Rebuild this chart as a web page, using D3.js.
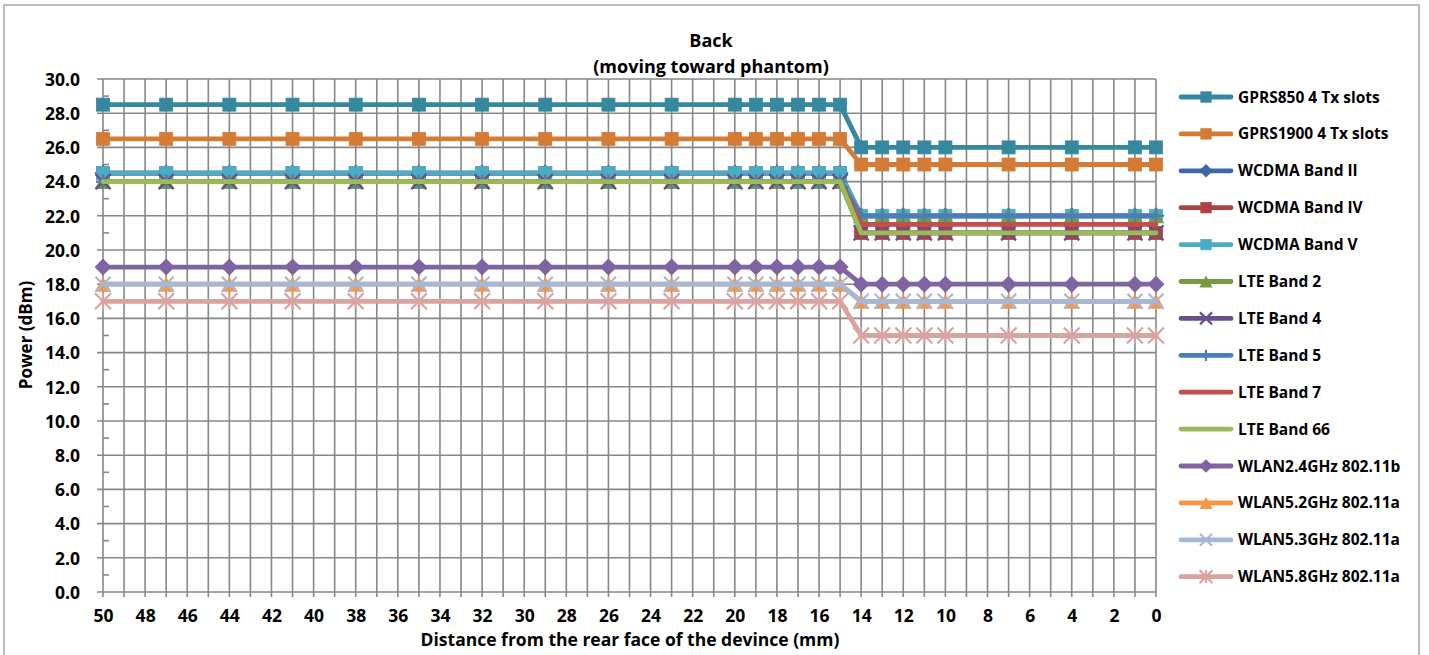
<!DOCTYPE html>
<html>
<head>
<meta charset="utf-8">
<script src="https://cdn.jsdelivr.net/npm/d3@7"></script>
<style>
  html, body { margin: 0; padding: 0; background: #fff; }
  svg { display: block; }
  text { font-family: "Open Sans", "Noto Sans", sans-serif; font-weight: 700; fill: #000; }
</style>
</head>
<body>
<svg id="chart" width="1429" height="655"></svg>
<script>
// ---- data ----
const distances = [50,47,44,41,38,35,32,29,26,23,20,19,18,17,16,15,14,13,12,11,10,7,4,1,0];
const xTicks = [50,48,46,44,42,40,38,36,34,32,30,28,26,24,22,20,18,16,14,12,10,8,6,4,2,0];
const yTicks = [0,2,4,6,8,10,12,14,16,18,20,22,24,26,28,30];
const seriesNames = ["GPRS850 4 Tx slots","GPRS1900 4 Tx slots","WCDMA Band II","WCDMA Band IV","WCDMA Band V","LTE Band 2","LTE Band 4","LTE Band 5","LTE Band 7","LTE Band 66","WLAN2.4GHz 802.11b","WLAN5.2GHz 802.11a","WLAN5.3GHz 802.11a","WLAN5.8GHz 802.11a"];
const gprs850   = [28.5,28.5,28.5,28.5,28.5,28.5,28.5,28.5,28.5,28.5,28.5,28.5,28.5,28.5,28.5,28.5,26,26,26,26,26,26,26,26,26];
const gprs1900  = [26.5,26.5,26.5,26.5,26.5,26.5,26.5,26.5,26.5,26.5,26.5,26.5,26.5,26.5,26.5,26.5,25,25,25,25,25,25,25,25,25];
const wcdma2    = [24.5,24.5,24.5,24.5,24.5,24.5,24.5,24.5,24.5,24.5,24.5,24.5,24.5,24.5,24.5,24.5,22,22,22,22,22,22,22,22,22];
const wcdma4    = [24.5,24.5,24.5,24.5,24.5,24.5,24.5,24.5,24.5,24.5,24.5,24.5,24.5,24.5,24.5,24.5,21,21,21,21,21,21,21,21,21];
const wcdma5    = [24.5,24.5,24.5,24.5,24.5,24.5,24.5,24.5,24.5,24.5,24.5,24.5,24.5,24.5,24.5,24.5,22,22,22,22,22,22,22,22,22];
const lte2      = [24,24,24,24,24,24,24,24,24,24,24,24,24,24,24,24,22,22,22,22,22,22,22,22,22];
const lte4      = [24,24,24,24,24,24,24,24,24,24,24,24,24,24,24,24,21,21,21,21,21,21,21,21,21];
const lte5      = [24,24,24,24,24,24,24,24,24,24,24,24,24,24,24,24,22,22,22,22,22,22,22,22,22];
const lte7      = [24,24,24,24,24,24,24,24,24,24,24,24,24,24,24,24,21.5,21.5,21.5,21.5,21.5,21.5,21.5,21.5,21.5];
const lte66     = [24,24,24,24,24,24,24,24,24,24,24,24,24,24,24,24,21,21,21,21,21,21,21,21,21];
const wlan24    = [19,19,19,19,19,19,19,19,19,19,19,19,19,19,19,19,18,18,18,18,18,18,18,18,18];
const wlan52    = [18,18,18,18,18,18,18,18,18,18,18,18,18,18,18,18,17,17,17,17,17,17,17,17,17];
const wlan53    = [18,18,18,18,18,18,18,18,18,18,18,18,18,18,18,18,17,17,17,17,17,17,17,17,17];
const wlan58    = [17,17,17,17,17,17,17,17,17,17,17,17,17,17,17,17,15,15,15,15,15,15,15,15,15];
const seriesValues = [gprs850,gprs1900,wcdma2,wcdma4,wcdma5,lte2,lte4,lte5,lte7,lte66,wlan24,wlan52,wlan53,wlan58];
const seriesColors = ["#35889F","#D47B36","#3D69A5","#AC4340","#4BACC6","#789A42","#65508A","#4A7EBB","#C0504D","#9BBB59","#8064A2","#F79646","#A7B7D6","#D9A3A1"];
const seriesMarkers = ["square","square","diamond","square","square","triangle","x","plus","none","none","diamond","triangle","x","star"];

// ---- layout ----
const svg = d3.select("#chart");
const plot = {left: 103, right: 1156, top: 79, bottom: 592};
const x = d3.scaleLinear().domain([50, 0]).range([plot.left, plot.right]);
const y = d3.scaleLinear().domain([0, 30]).range([plot.bottom, plot.top]);
const gridColor = "#878787";

// outer border
svg.append("rect").attr("x", 4).attr("y", 5).attr("width", 1415).attr("height", 660)
  .attr("fill", "#fff").attr("stroke", "#A6A6A6").attr("stroke-width", 1.5);

// title
svg.append("text").attr("x", 711).attr("y", 47).attr("text-anchor", "middle").attr("font-size", 18).text("Back");
svg.append("text").attr("x", 711).attr("y", 73).attr("text-anchor", "middle").attr("font-size", 18).text("(moving toward phantom)");

// gridlines
const grid = svg.append("g");
d3.range(50, -1, -1).forEach(v => {
  grid.append("line").attr("x1", x(v)).attr("x2", x(v)).attr("y1", plot.top).attr("y2", plot.bottom + 5)
    .attr("stroke", gridColor).attr("stroke-width", 1.6);
});
yTicks.forEach(v => {
  grid.append("line").attr("x1", plot.left - 6).attr("x2", plot.right).attr("y1", y(v)).attr("y2", y(v))
    .attr("stroke", gridColor).attr("stroke-width", 1.6);
});
d3.range(1, 30, 2).forEach(v => {
  grid.append("line").attr("x1", plot.left).attr("x2", plot.left + 6).attr("y1", y(v)).attr("y2", y(v))
    .attr("stroke", gridColor).attr("stroke-width", 1.6);
});

// axes labels via d3 axes
const fontFam = '"Open Sans", "Noto Sans", sans-serif';
const yAxis = d3.axisLeft(y).tickValues(yTicks).tickFormat(d3.format(".1f")).tickSize(0).tickPadding(0);
const gy = svg.append("g").attr("transform", `translate(${plot.left - 23},0)`).call(yAxis);
gy.select(".domain").remove();
gy.selectAll("text").attr("font-size", 17.5).attr("font-family", fontFam).attr("font-weight", 700).attr("fill", "#000").attr("dy", "0.36em");

const xAxis = d3.axisBottom(x).tickValues(xTicks).tickSize(0).tickPadding(0);
const gx = svg.append("g").attr("transform", `translate(0,${plot.bottom + 18})`).call(xAxis);
gx.select(".domain").remove();
gx.selectAll("text").attr("font-size", 17.5).attr("font-family", fontFam).attr("font-weight", 700).attr("fill", "#000").attr("dy", "0.71em");

svg.append("text").attr("transform", "translate(32,335) rotate(-90)").attr("text-anchor", "middle").attr("font-size", 17).text("Power (dBm)");
svg.append("text").attr("x", 630).attr("y", 646).attr("text-anchor", "middle").attr("font-size", 17.5).text("Distance from the rear face of the devince (mm)");

// markers
function drawMarker(g, type, cx, cy, color, k) {
  if (type === "square") {
    const h = 6.5 * k;
    g.append("rect").attr("x", cx - h).attr("y", cy - h).attr("width", 2 * h).attr("height", 2 * h).attr("fill", color).attr("stroke", color).attr("stroke-width", 0.8);
  } else if (type === "diamond") {
    const h = 8.5 * k;
    g.append("path").attr("d", `M${cx},${cy - h}L${cx + h},${cy}L${cx},${cy + h}L${cx - h},${cy}Z`).attr("fill", color);
  } else if (type === "triangle") {
    const h = 7.5 * k;
    g.append("path").attr("d", `M${cx},${cy - h}L${cx + h * 1.1},${cy + h}L${cx - h * 1.1},${cy + h}Z`).attr("fill", color);
  } else if (type === "x") {
    const h = 7.5 * k;
    g.append("path").attr("d", `M${cx - h},${cy - h}L${cx + h},${cy + h}M${cx + h},${cy - h}L${cx - h},${cy + h}`).attr("stroke", color).attr("stroke-width", 2.2).attr("fill", "none");
  } else if (type === "plus") {
    const h = 7 * k;
    g.append("path").attr("d", `M${cx},${cy - h}L${cx},${cy + h}M${cx - h},${cy}L${cx + h},${cy}`).attr("stroke", color).attr("stroke-width", 2.2).attr("fill", "none");
  } else if (type === "star") {
    const h = 8 * k;
    g.append("path").attr("d", `M${cx - h},${cy - h}L${cx + h},${cy + h}M${cx + h},${cy - h}L${cx - h},${cy + h}M${cx},${cy - h}L${cx},${cy + h}`).attr("stroke", color).attr("stroke-width", 2.2).attr("fill", "none");
  }
}

const line = d3.line().x(d => x(d[0])).y(d => y(d[1]));
const series = svg.append("g");
seriesNames.forEach((name, i) => {
  const pts = distances.map((d, j) => [d, seriesValues[i][j]]);
  const g = series.append("g");
  g.append("path").attr("d", line(pts)).attr("fill", "none").attr("stroke", seriesColors[i])
    .attr("stroke-width", 4.8).attr("stroke-linejoin", "round").attr("stroke-linecap", "round");
  pts.forEach(p => drawMarker(g, seriesMarkers[i], x(p[0]), y(p[1]), seriesColors[i], 1));
});

// legend
const legend = svg.append("g");
seriesNames.forEach((name, i) => {
  const ly = 97 + i * 36.9;
  legend.append("line").attr("x1", 1181).attr("x2", 1231).attr("y1", ly).attr("y2", ly)
    .attr("stroke", seriesColors[i]).attr("stroke-width", 4.8).attr("stroke-linecap", "round");
  drawMarker(legend, seriesMarkers[i], 1206, ly, seriesColors[i], 0.8);
  legend.append("text").attr("x", 1238).attr("y", ly).attr("dy", "0.36em").attr("font-size", 15.5).text(name);
});
</script>
</body>
</html>
